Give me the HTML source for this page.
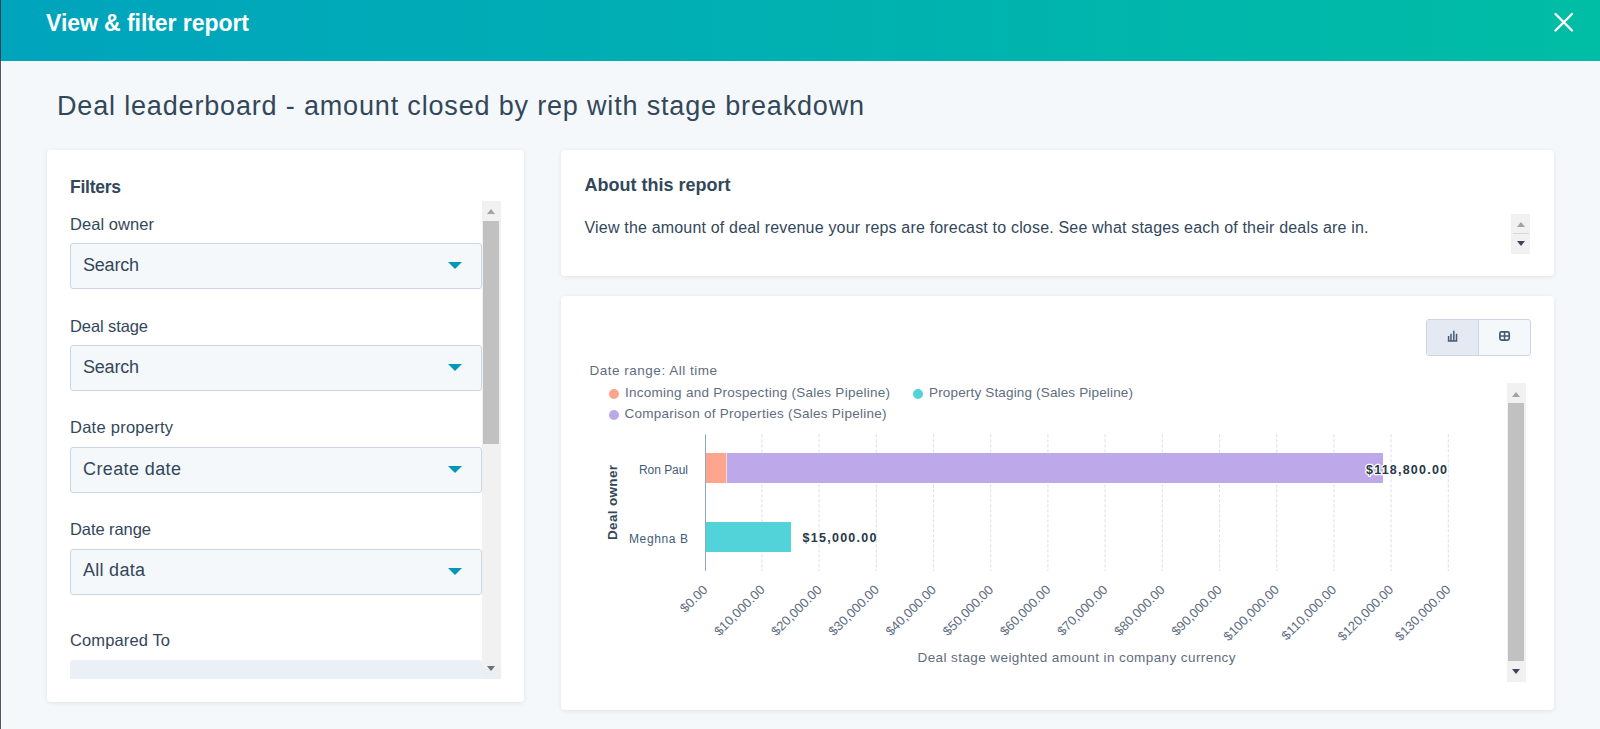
<!DOCTYPE html>
<html><head><meta charset="utf-8"><title>View &amp; filter report</title>
<style>
*{box-sizing:border-box;margin:0;padding:0}
html,body{width:1600px;height:729px;overflow:hidden;background:#f5f8fa;font-family:"Liberation Sans",sans-serif;color:#33475b}
.a{position:absolute}
#lstrip{position:absolute;left:0;top:0;width:1px;height:729px;background:#4b5867}
#lwhite{position:absolute;left:1px;top:61px;width:1px;height:668px;background:#fff}
#hdr{position:absolute;left:1px;top:0;width:1599px;height:61px;background:linear-gradient(to right,#00a4bd,#00bda5)}
.card{position:absolute;background:#fff;border-radius:4px;box-shadow:0 1px 4px rgba(45,62,80,.10)}
.sel{position:absolute;left:70px;width:412px;height:46px;background:#f5f8fa;border:1px solid #cbd6e2;border-radius:3px}
.caret{position:absolute;left:376.5px;top:17.8px;width:0;height:0;border-left:7.5px solid transparent;border-right:7.5px solid transparent;border-top:7.5px solid #0098b8}
.sb{position:absolute;background:#f1f1f1}
.th{position:absolute;background:#c1c1c1}
.up{position:absolute;width:0;height:0;border-left:4.5px solid transparent;border-right:4.5px solid transparent;border-bottom:5px solid #a3a3a3}
.dn{position:absolute;width:0;height:0;border-left:4.5px solid transparent;border-right:4.5px solid transparent;border-top:5px solid #3b4656}
svg text{font-family:"Liberation Sans",sans-serif;white-space:pre}
</style></head><body>
<div id="lstrip"></div><div class="a" style="left:0;top:0;width:1px;height:61px;background:#3f3f59"></div><div id="lwhite"></div>
<div id="hdr"></div>

<!-- Filters card -->
<div class="card" style="left:47px;top:150px;width:477px;height:552px"></div>
<div class="sel" style="top:243px"><i class="caret"></i></div>
<div class="sel" style="top:345px"><i class="caret"></i></div>
<div class="sel" style="top:447px"><i class="caret"></i></div>
<div class="sel" style="top:549px"><i class="caret"></i></div>
<div class="a" style="left:70px;top:660px;width:412px;height:19px;background:#eaf0f6;border-radius:3px 3px 0 0"></div>
<div class="sb" style="left:482px;top:201px;width:19px;height:478px"></div>
<div class="th" style="left:483px;top:221px;width:16px;height:223px"></div>
<i class="up" style="left:487px;top:209px"></i>
<div class="a" style="left:482px;top:668px;width:19px;height:11px;background:#eaeff4"></div>
<i class="dn" style="left:487px;top:666px;border-top-color:#707070"></i>

<!-- About card -->
<div class="card" style="left:561px;top:150px;width:993px;height:126px"></div>
<div class="sb" style="left:1511px;top:214px;width:19px;height:40px"></div>
<i class="up" style="left:1516.5px;top:222px"></i>
<div class="a" style="left:1513px;top:233px;width:16px;height:1px;background:#d3d9e0"></div>
<i class="dn" style="left:1516.5px;top:240.5px"></i>

<!-- Chart card -->
<div class="card" style="left:561px;top:296px;width:993px;height:414px"></div>
<div class="a" style="left:1426px;top:319px;width:105px;height:37px;border:1px solid #cbd6e2;border-radius:3px;background:#f5f8fa;overflow:hidden">
  <div style="position:absolute;left:0;top:0;width:52px;height:35px;background:#e5eaf2;border-right:1px solid #cbd6e2"></div>
</div>

<!-- legend dots -->
<i class="a" style="left:609px;top:389px;width:10px;height:10px;border-radius:50%;background:#fea58e"></i>
<i class="a" style="left:913px;top:389px;width:10px;height:10px;border-radius:50%;background:#51d3d9"></i>
<i class="a" style="left:609px;top:410px;width:10px;height:10px;border-radius:50%;background:#bda9ea"></i>

<!-- chart scrollbar -->
<div class="sb" style="left:1507px;top:383px;width:19px;height:299px"></div>
<div class="th" style="left:1508px;top:403px;width:16px;height:258px"></div>
<i class="up" style="left:1512px;top:392px"></i>
<i class="dn" style="left:1512px;top:668.5px"></i>

<svg class="a" style="left:0;top:0" width="1600" height="729" viewBox="0 0 1600 729">
<path d="M1555.5 14L1572 30.5M1572 14L1555.5 30.5" stroke="#fff" stroke-width="2.4" stroke-linecap="round"/>
<path d="M1448.6 336v5.6M1451 333.8v7.8M1453.8 330.8v10.8M1456.5 333.8v7.8M1447.8 340.9h9.5" stroke="#425b76" stroke-width="1.5" fill="none"/>
<rect x="1499.9" y="331.9" width="9.3" height="8.3" rx="1.6" stroke="#425b76" stroke-width="1.7" fill="none"/><path d="M1500 336.05h9M1504.55 332v8" stroke="#425b76" stroke-width="1.5"/>
<line x1="761.90" y1="434.2" x2="761.90" y2="571" stroke="#dde3ec" stroke-width="1.1" stroke-dasharray="3.3 1.7"/>
<line x1="819.10" y1="434.2" x2="819.10" y2="571" stroke="#dde3ec" stroke-width="1.1" stroke-dasharray="3.3 1.7"/>
<line x1="876.30" y1="434.2" x2="876.30" y2="571" stroke="#dde3ec" stroke-width="1.1" stroke-dasharray="3.3 1.7"/>
<line x1="933.50" y1="434.2" x2="933.50" y2="571" stroke="#dde3ec" stroke-width="1.1" stroke-dasharray="3.3 1.7"/>
<line x1="990.70" y1="434.2" x2="990.70" y2="571" stroke="#dde3ec" stroke-width="1.1" stroke-dasharray="3.3 1.7"/>
<line x1="1047.90" y1="434.2" x2="1047.90" y2="571" stroke="#dde3ec" stroke-width="1.1" stroke-dasharray="3.3 1.7"/>
<line x1="1105.10" y1="434.2" x2="1105.10" y2="571" stroke="#dde3ec" stroke-width="1.1" stroke-dasharray="3.3 1.7"/>
<line x1="1162.30" y1="434.2" x2="1162.30" y2="571" stroke="#dde3ec" stroke-width="1.1" stroke-dasharray="3.3 1.7"/>
<line x1="1219.50" y1="434.2" x2="1219.50" y2="571" stroke="#dde3ec" stroke-width="1.1" stroke-dasharray="3.3 1.7"/>
<line x1="1276.70" y1="434.2" x2="1276.70" y2="571" stroke="#dde3ec" stroke-width="1.1" stroke-dasharray="3.3 1.7"/>
<line x1="1333.90" y1="434.2" x2="1333.90" y2="571" stroke="#dde3ec" stroke-width="1.1" stroke-dasharray="3.3 1.7"/>
<line x1="1391.10" y1="434.2" x2="1391.10" y2="571" stroke="#dde3ec" stroke-width="1.1" stroke-dasharray="3.3 1.7"/>
<line x1="1448.30" y1="434.2" x2="1448.30" y2="571" stroke="#dde3ec" stroke-width="1.1" stroke-dasharray="3.3 1.7"/>
<rect x="706" y="453" width="20.4" height="30" fill="#fea58e"/>
<rect x="727" y="453" width="656" height="30" fill="#bda9ea"/>
<rect x="706" y="522" width="85" height="30" fill="#51d3d9"/>
<line x1="705.5" y1="434.3" x2="705.5" y2="571" stroke="#8fa5c4" stroke-width="1"/>
<text x="708.3" y="590.5" transform="rotate(-45 708.3 590.5)" text-anchor="end" font-size="13" fill="#5e6d80">$0.00</text>
<text x="765.5" y="590.5" transform="rotate(-45 765.5 590.5)" text-anchor="end" font-size="13" fill="#5e6d80">$10,000.00</text>
<text x="822.6" y="590.5" transform="rotate(-45 822.6 590.5)" text-anchor="end" font-size="13" fill="#5e6d80">$20,000.00</text>
<text x="879.8" y="590.5" transform="rotate(-45 879.8 590.5)" text-anchor="end" font-size="13" fill="#5e6d80">$30,000.00</text>
<text x="936.9" y="590.5" transform="rotate(-45 936.9 590.5)" text-anchor="end" font-size="13" fill="#5e6d80">$40,000.00</text>
<text x="994.1" y="590.5" transform="rotate(-45 994.1 590.5)" text-anchor="end" font-size="13" fill="#5e6d80">$50,000.00</text>
<text x="1051.3" y="590.5" transform="rotate(-45 1051.3 590.5)" text-anchor="end" font-size="13" fill="#5e6d80">$60,000.00</text>
<text x="1108.4" y="590.5" transform="rotate(-45 1108.4 590.5)" text-anchor="end" font-size="13" fill="#5e6d80">$70,000.00</text>
<text x="1165.6" y="590.5" transform="rotate(-45 1165.6 590.5)" text-anchor="end" font-size="13" fill="#5e6d80">$80,000.00</text>
<text x="1222.7" y="590.5" transform="rotate(-45 1222.7 590.5)" text-anchor="end" font-size="13" fill="#5e6d80">$90,000.00</text>
<text x="1279.9" y="590.5" transform="rotate(-45 1279.9 590.5)" text-anchor="end" font-size="13" fill="#5e6d80">$100,000.00</text>
<text x="1337.1" y="590.5" transform="rotate(-45 1337.1 590.5)" text-anchor="end" font-size="13" fill="#5e6d80">$110,000.00</text>
<text x="1394.2" y="590.5" transform="rotate(-45 1394.2 590.5)" text-anchor="end" font-size="13" fill="#5e6d80">$120,000.00</text>
<text x="1451.4" y="590.5" transform="rotate(-45 1451.4 590.5)" text-anchor="end" font-size="13" fill="#5e6d80">$130,000.00</text>
<text x="1366" y="473.75" font-size="12.5" font-weight="bold" fill="#273747" stroke="#fff" stroke-width="2.5" stroke-linejoin="round" paint-order="stroke" textLength="81" lengthAdjust="spacing">$118,800.00</text>
<text x="802.5" y="542.4" font-size="12.5" font-weight="bold" fill="#273747" textLength="74" lengthAdjust="spacing">$15,000.00</text>
<text x="0" y="0" transform="translate(617,502.5) rotate(-90)" text-anchor="middle" font-size="13.5" font-weight="bold" fill="#33475b" textLength="75" lengthAdjust="spacing">Deal owner</text>
<text x="46" y="30.7" font-size="23" font-weight="bold" fill="#fff" textLength="203" lengthAdjust="spacing">View &amp; filter report</text>
<text x="57" y="114.6" font-size="27" font-weight="normal" fill="#33475b" textLength="807" lengthAdjust="spacing">Deal leaderboard - amount closed by rep with stage breakdown</text>
<text x="70" y="192.5" font-size="17.5" font-weight="bold" fill="#33475b" textLength="51" lengthAdjust="spacing">Filters</text>
<text x="70" y="229.5" font-size="16.5" font-weight="normal" fill="#33475b" textLength="84" lengthAdjust="spacing">Deal owner</text>
<text x="70" y="331.6" font-size="16.5" font-weight="normal" fill="#33475b" textLength="78" lengthAdjust="spacing">Deal stage</text>
<text x="70" y="433.4" font-size="16.5" font-weight="normal" fill="#33475b" textLength="103" lengthAdjust="spacing">Date property</text>
<text x="70" y="535.2" font-size="16.5" font-weight="normal" fill="#33475b" textLength="81" lengthAdjust="spacing">Date range</text>
<text x="70" y="646.4" font-size="16.5" font-weight="normal" fill="#33475b" textLength="100" lengthAdjust="spacing">Compared To</text>
<text x="83" y="271.3" font-size="18" font-weight="normal" fill="#33475b" textLength="56" lengthAdjust="spacing">Search</text>
<text x="83" y="373.4" font-size="18" font-weight="normal" fill="#33475b" textLength="56" lengthAdjust="spacing">Search</text>
<text x="83" y="475" font-size="18" font-weight="normal" fill="#33475b" textLength="98" lengthAdjust="spacing">Create date</text>
<text x="83" y="576.4" font-size="18" font-weight="normal" fill="#33475b" textLength="62" lengthAdjust="spacing">All data</text>
<text x="584.5" y="190.8" font-size="18" font-weight="bold" fill="#33475b" textLength="146" lengthAdjust="spacing">About this report</text>
<text x="584.5" y="233.1" font-size="16" font-weight="normal" fill="#33475b" textLength="784" lengthAdjust="spacing">View the amount of deal revenue your reps are forecast to close. See what stages each of their deals are in.</text>
<text x="589.5" y="375" font-size="13.5" font-weight="normal" fill="#5e6d80" textLength="127.5" lengthAdjust="spacing">Date range: All time</text>
<text x="625" y="397" font-size="13.5" font-weight="normal" fill="#5e6d80" textLength="265" lengthAdjust="spacing">Incoming and Prospecting (Sales Pipeline)</text>
<text x="929" y="397" font-size="13.5" font-weight="normal" fill="#5e6d80" textLength="204" lengthAdjust="spacing">Property Staging (Sales Pipeline)</text>
<text x="624.5" y="418" font-size="13.5" font-weight="normal" fill="#5e6d80" textLength="262" lengthAdjust="spacing">Comparison of Properties (Sales Pipeline)</text>
<text x="639" y="474" font-size="12" font-weight="normal" fill="#425b76" textLength="49" lengthAdjust="spacing">Ron Paul</text>
<text x="629" y="542.7" font-size="12" font-weight="normal" fill="#425b76" textLength="59" lengthAdjust="spacing">Meghna B</text>
<text x="917.5" y="662" font-size="13.5" font-weight="normal" fill="#5e6d80" textLength="318" lengthAdjust="spacing">Deal stage weighted amount in company currency</text>
</svg>
</body></html>
